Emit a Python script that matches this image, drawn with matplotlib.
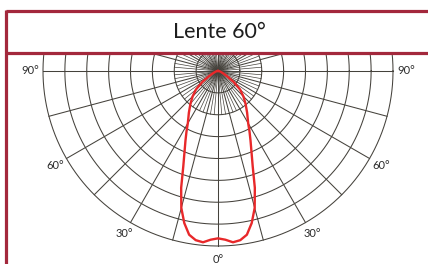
import numpy as np
import matplotlib
matplotlib.use("Agg")
import matplotlib.pyplot as plt
from matplotlib.lines import Line2D
from matplotlib.patches import Rectangle

# ---------------- data ----------------
title = "Lente 60°"
ring_count = 8
# half-distribution (symmetric), angle from nadir in degrees
angles_deg = [0, 2.5, 5, 7.5, 10, 12.5, 15, 17.5, 20, 22.5, 25, 27.5, 30,
              35, 40, 45, 50, 55, 60, 65, 70, 80, 90]
# relative intensity in ring units (outer ring = 8)
intensity = [7.65, 7.72, 7.86, 7.80, 7.60, 7.12, 6.48, 5.60, 4.64, 4.00, 3.52,
             3.12, 2.76, 2.32, 1.96, 1.64, 1.32, 0.88, 0.48, 0.28, 0.16, 0.08, 0.0]
label_angles = [-90, -60, -30, 0, 30, 60, 90]
label_texts = ["90°", "60°", "30°", "0°", "30°", "60°", "90°"]

# ---------------- layout ----------------
W, H = 428, 264
cx, cy = 218, 71          # pixel centre of diagram
R_px = 175.0
unit = R_px / ring_count  # pixels per ring

fig = plt.figure(figsize=(W / 100, H / 100), dpi=100)
ax = fig.add_axes([0, 0, 1, 1])
ax.set_xlim(-cx / unit, (W - cx) / unit)
ax.set_ylim(-(H - cy) / unit, cy / unit)
ax.axis("off")

grid_col = "#45423c"
grid_lw = 0.75

# circles
t = np.linspace(0, 2 * np.pi, 721)
for k in range(1, ring_count + 1):
    ax.plot(k * np.cos(t), k * np.sin(t), color=grid_col, lw=grid_lw, zorder=1)

# radial lines
for a in range(0, 360, 5):
    rad = np.deg2rad(a)
    major = a % 15 == 0
    rmax = ring_count if major else 2
    ax.plot([0, rmax * np.sin(rad)], [0, -rmax * np.cos(rad)],
            color=grid_col, lw=grid_lw if major else 0.5, zorder=1)

# distribution curve
ang = np.array(angles_deg, dtype=float)
val = np.array(intensity, dtype=float)
full_ang = np.concatenate([-ang[::-1], ang[1:]])
full_val = np.concatenate([val[::-1], val[1:]])
th = np.deg2rad(full_ang)
ax.plot(full_val * np.sin(th), -full_val * np.cos(th), color="#e8282a",
        lw=1.7, zorder=3, solid_joinstyle="round")

# angle labels
lab_r = 8.6
for a, s in zip(label_angles, label_texts):
    rad = np.deg2rad(a)
    ax.text(lab_r * np.sin(rad), -lab_r * np.cos(rad), s, ha="center",
            va="center", fontsize=8, color="#2b2b2b", family="Lato", zorder=4)

# title area: white mask over grid
fig.add_artist(Rectangle((0, 1 - 53.3 / H), 1, 53.3 / H, transform=fig.transFigure,
                         facecolor="white", edgecolor="none", zorder=5))

frame_col = "#a3283c"
x0 = 6.2 / W
for yp in (11.0, 53.3):
    fig.add_artist(Line2D([x0, 1], [1 - yp / H, 1 - yp / H], transform=fig.transFigure,
                          color=frame_col, lw=2.3, zorder=6, solid_capstyle="butt"))
fig.add_artist(Line2D([x0, x0], [1 - 11.0 / H + 1.1 / H, 0], transform=fig.transFigure,
                      color=frame_col, lw=2.3, zorder=6, solid_capstyle="butt"))

fig.text(219 / W, 1 - 32 / H, title, ha="center", va="center", fontsize=15.5,
         color="#1e1e1e", family="Lato", zorder=7)

fig.savefig("out.png", dpi=100)
